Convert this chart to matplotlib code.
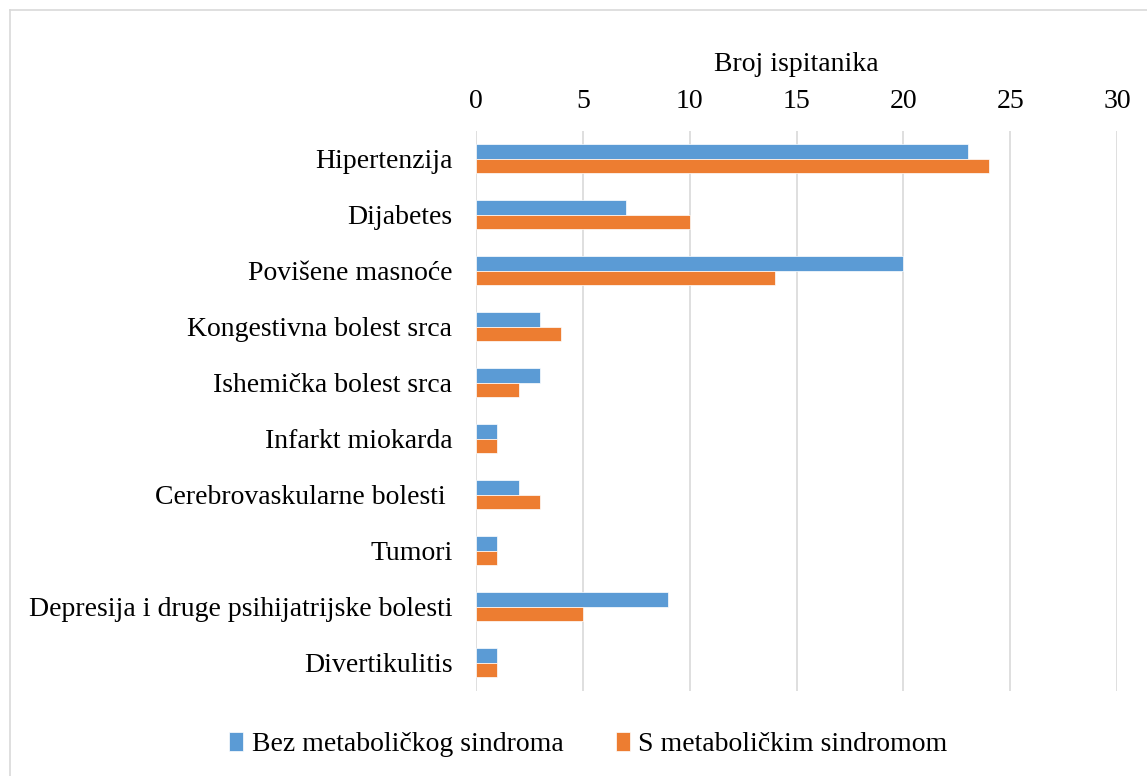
import matplotlib.pyplot as plt
import numpy as np

categories = ['Hipertenzija', 'Dijabetes', 'Povišene masnoće', 'Kongestivna bolest srca',
              'Ishemička bolest srca', 'Infarkt miokarda', 'Cerebrovaskularne bolesti ',
              'Tumori', 'Depresija i druge psihijatrijske bolesti', 'Divertikulitis']
bez_ms = [23, 7, 20, 3, 3, 1, 2, 1, 9, 1]
s_ms = [24, 10, 14, 4, 2, 1, 3, 1, 5, 1]
x_ticks = [0, 5, 10, 15, 20, 25, 30]

plt.rcParams['font.family'] = ['Liberation Serif', 'DejaVu Serif']

fig = plt.figure(figsize=(11.47, 7.76), dpi=100)
ax = fig.add_axes([0.415, 0.110, 0.559, 0.7215])

# outer border like the excel chart area
fig.add_artist(plt.Line2D([10 / 1147, 10 / 1147], [0, 1 - 10 / 776], color='#d9d9d9', lw=1.2))
fig.add_artist(plt.Line2D([10 / 1147, 1], [1 - 10 / 776, 1 - 10 / 776], color='#d9d9d9', lw=1.2))

y = np.arange(len(categories))
h = 0.26
ax.barh(y - h / 2, bez_ms, height=h, color='#5B9BD5', edgecolor='white', linewidth=0.5,
        label='Bez metaboličkog sindroma', zorder=3)
ax.barh(y + h / 2, s_ms, height=h, color='#ED7D31', edgecolor='white', linewidth=0.5,
        label='S metaboličkim sindromom', zorder=3)

ax.set_yticks(y)
ax.set_yticklabels(categories, fontsize=20)
ax.set_ylim(len(categories) - 0.5, -0.5)
ax.set_xlim(0, 30)
ax.set_xticks(x_ticks)
ax.xaxis.tick_top()
ax.xaxis.set_label_position('top')
ax.set_xlabel('Broj ispitanika', fontsize=20, labelpad=13)
ax.tick_params(axis='x', labelsize=20, length=0, pad=12)
ax.tick_params(axis='y', length=0, pad=17)
ax.grid(axis='x', color='#d9d9d9', lw=1.2, zorder=0)
for s in ax.spines.values():
    s.set_visible(False)

fig.legend(loc='center', bbox_to_anchor=(0.513, 0.04), ncol=2, frameon=False, fontsize=20,
           handlelength=0.5, handleheight=0.65, handletextpad=0.3, columnspacing=1.9)

plt.savefig('out.png')
